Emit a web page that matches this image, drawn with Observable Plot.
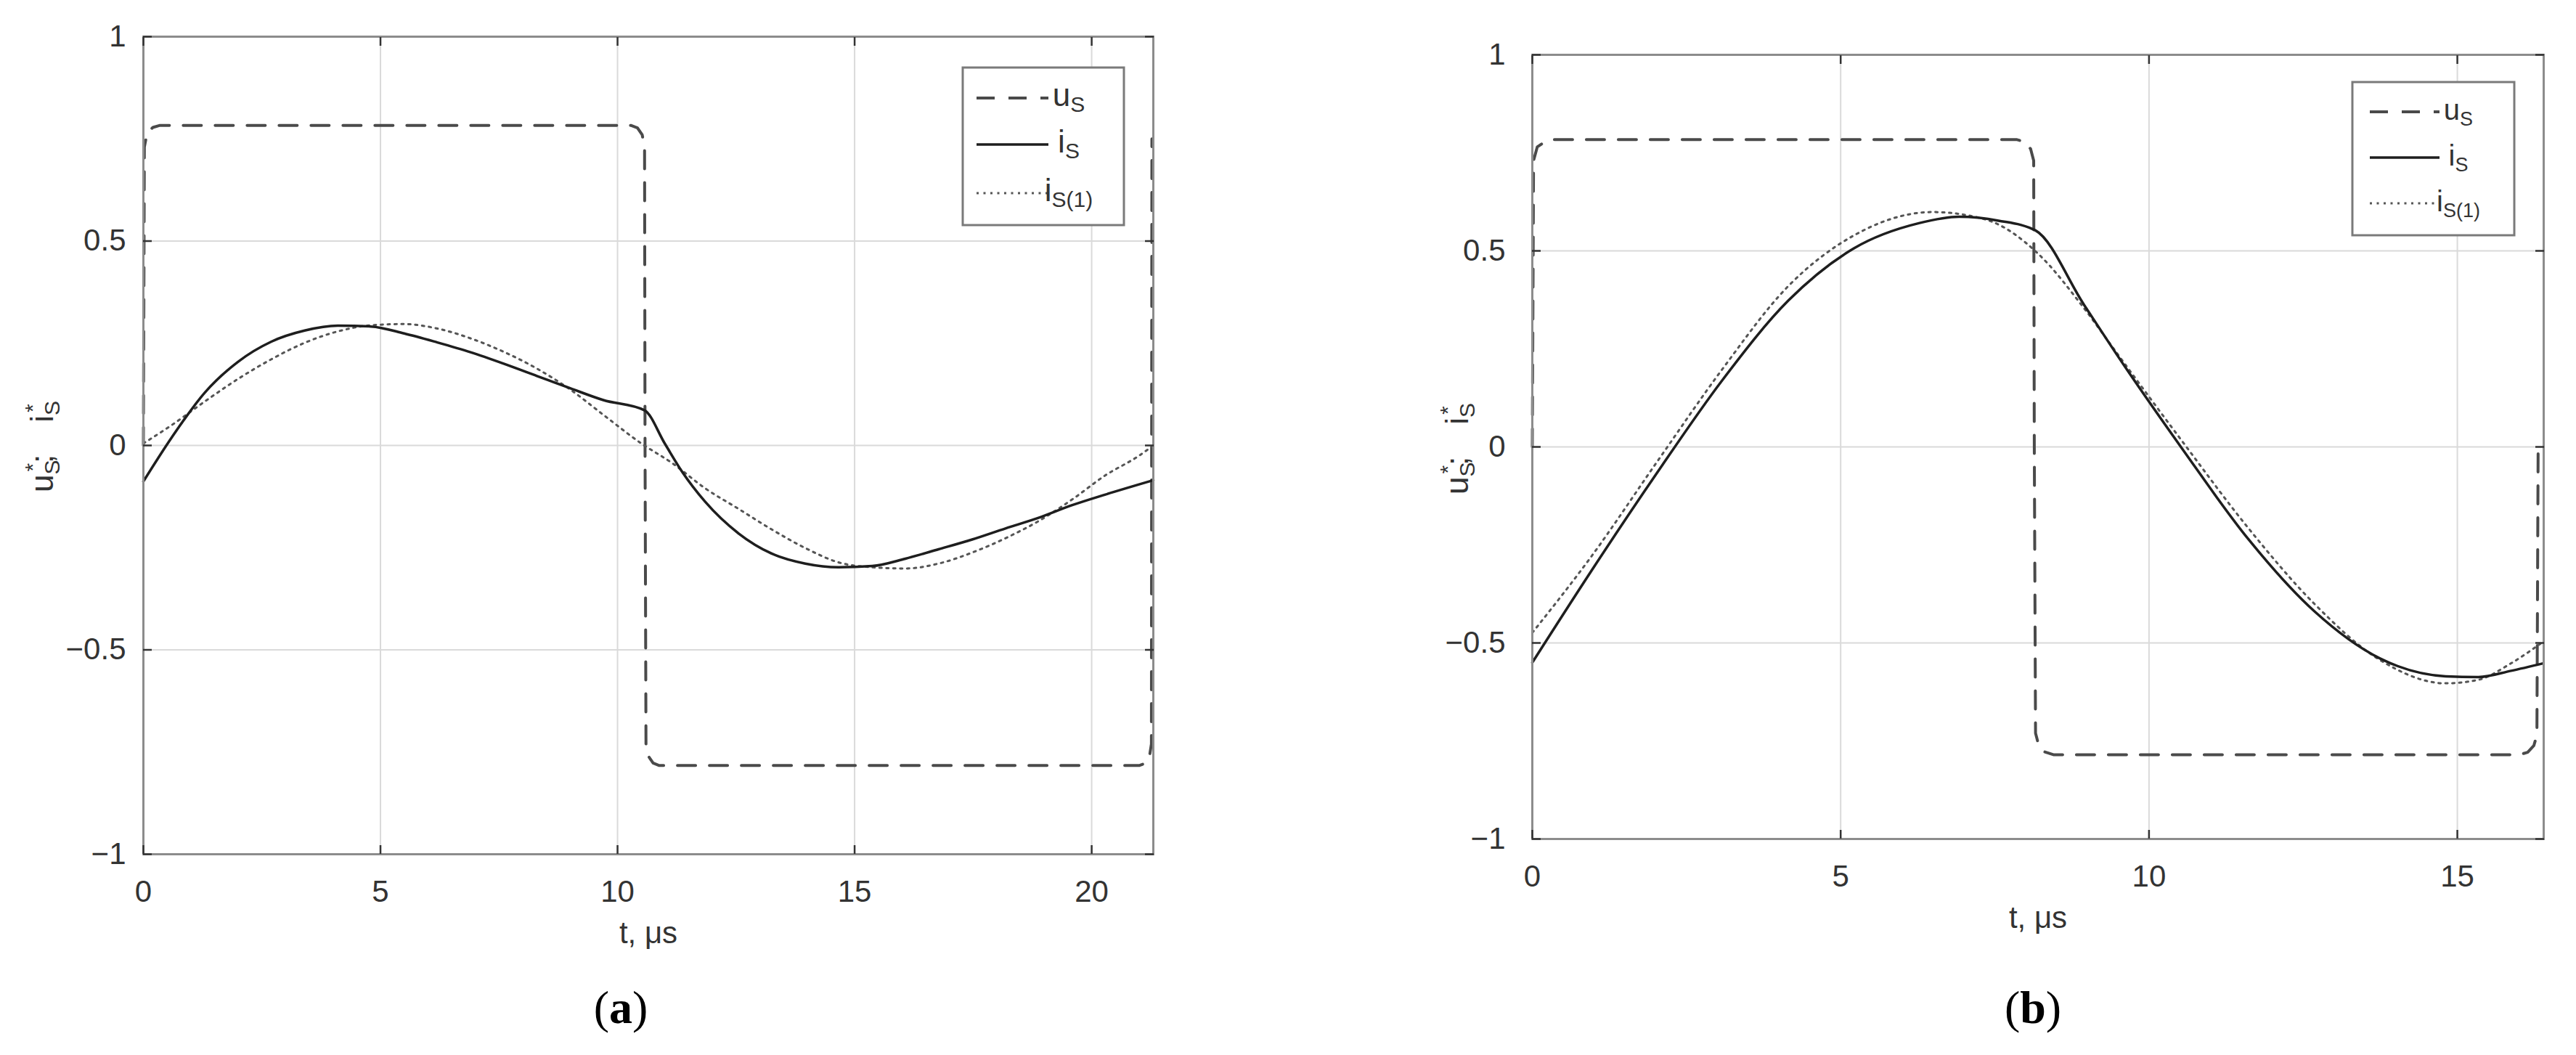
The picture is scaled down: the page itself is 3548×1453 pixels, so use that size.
<!DOCTYPE html>
<html>
<head>
<meta charset="utf-8">
<script src="https://cdn.jsdelivr.net/npm/d3@7"></script>
<script src="https://cdn.jsdelivr.net/npm/@observablehq/plot@0.6"></script>
<style>
  html, body { margin: 0; padding: 0; background: #fff; }
  #page { position: relative; width: 3548px; height: 1453px; overflow: hidden; background: #fff; }
  #page svg { position: absolute; top: 0; }
  .cap { position: absolute; font-family: "Liberation Serif", serif; font-size: 64px; color: #000;
         transform: translate(-50%, -50%); white-space: nowrap; }
</style>
</head>
<body>
<div id="page"></div>
<script>
// ---------- tick values ----------
const xTicksA = [0, 5, 10, 15, 20];
const xTicksB = [0, 5, 10, 15];
const yTicks = [-1, -0.5, 0, 0.5, 1];

// ---------- panel (a) ----------
const tA_is = [0, 0.6, 1.3, 2.0, 2.7, 3.4, 4.1, 4.8, 5.5, 6.2, 6.9, 7.6, 8.3, 9.0, 9.7, 10.57,
               11.0, 11.36, 11.85, 12.55, 13.26, 13.96, 14.66, 15.37, 16.07, 16.77, 17.48, 18.18, 18.88, 19.59, 20.29, 21.3];
const vA_is = [-0.088, 0.02, 0.13, 0.205, 0.254, 0.281, 0.293, 0.291, 0.274, 0.252, 0.228, 0.200, 0.170, 0.140, 0.111, 0.086,
               0.004, -0.064, -0.138, -0.215, -0.265, -0.289, -0.298, -0.295, -0.277, -0.254, -0.230, -0.203, -0.177, -0.146, -0.120, -0.085];

const tA_is1 = [0, 0.6, 1.3, 2.0, 2.7, 3.4, 4.1, 4.8, 5.5, 6.2, 6.9, 7.6, 8.3, 9.0, 9.7, 10.5,
                11.15, 11.85, 12.55, 13.26, 13.96, 14.66, 15.37, 16.07, 16.77, 17.48, 18.18, 18.88, 19.59, 20.29, 21.0, 21.3];
const vA_is1 = [0.005, 0.05, 0.108, 0.163, 0.211, 0.251, 0.279, 0.294, 0.297, 0.286, 0.262, 0.229, 0.188, 0.137, 0.075, 0.005,
                -0.043, -0.105, -0.155, -0.206, -0.251, -0.286, -0.298, -0.301, -0.289, -0.262, -0.227, -0.185, -0.132, -0.073, -0.025, 0.0];

const tA_us = [0, 0.02, 0.08, 0.2, 0.35, 10.28, 10.42, 10.52, 10.57, 10.58, 10.6, 10.65, 10.75, 10.88, 21.0, 21.14, 21.22, 21.26, 21.27];
const vA_us = [0, 0.73, 0.765, 0.778, 0.783, 0.783, 0.777, 0.76, 0.73, 0, -0.73, -0.76, -0.777, -0.783, -0.783, -0.777, -0.76, -0.73, 0.75];

// ---------- panel (b) ----------
const tB_is = [0, 0.95, 2.01, 3.08, 4.15, 5.21, 6.28, 6.92, 7.56, 8.16, 8.94, 9.48, 10.54, 11.61, 12.68, 13.74, 14.81, 15.34, 15.87, 16.39];
const vB_is = [-0.55, -0.318, -0.069, 0.170, 0.373, 0.506, 0.571, 0.587, 0.577, 0.552, 0.364, 0.235, -0.005, -0.235, -0.419, -0.539, -0.585, -0.587, -0.571, -0.552];

const tB_is1 = [0, 0.95, 2.01, 3.08, 4.15, 5.21, 6.49, 7.35, 8.2, 8.94, 9.48, 10.54, 11.61, 12.68, 13.74, 14.81, 15.34, 15.87, 16.39];
const vB_is1 = [-0.474, -0.281, -0.041, 0.198, 0.410, 0.539, 0.599, 0.580, 0.493, 0.355, 0.239, 0.014, -0.207, -0.400, -0.543, -0.603, -0.594, -0.552, -0.497];

const tB_us = [0, 0.02, 0.08, 0.2, 0.35, 7.85, 7.99, 8.08, 8.13, 8.14, 8.16, 8.21, 8.31, 8.45, 16.0, 16.14, 16.24, 16.29, 16.31];
const vB_us = [0, 0.73, 0.765, 0.778, 0.784, 0.784, 0.778, 0.76, 0.73, 0, -0.73, -0.76, -0.778, -0.785, -0.785, -0.779, -0.762, -0.735, 0];

// ---------- text ----------
const legendLabels = [["u", "S"], ["i", "S"], ["i", "S(1)"]];
const xTitle = "t, μs";
const captions = ["a", "b"];

// ---------- styles ----------
const FONT = "'Liberation Sans', Arial, sans-serif";
const TEXT_COLOR = "#333";
const styleUs = {stroke: "#4a4a4a", strokeWidth: 4, strokeDasharray: "25,19"};
const styleIs = {stroke: "#1e1e1e", strokeWidth: 3.5};
const styleIs1 = {stroke: "#555", strokeWidth: 3, strokeDasharray: "3,6.5"};
const lineStyles = [styleUs, styleIs, styleIs1];
const noText = () => "";
const fmtY = d => (d < 0 ? "\u2212" : "") + String(Math.abs(d));

const zip = (t, v) => t.map((x, i) => ({t: x, v: v[i]}));

function panel(cfg) {
  const svg = Plot.plot({
    width: cfg.width, height: 1453,
    marginLeft: cfg.ml, marginRight: cfg.mr, marginTop: cfg.mt, marginBottom: cfg.mb,
    x: {domain: cfg.xDomain},
    y: {domain: [-1, 1]},
    style: {fontFamily: FONT, fontSize: "42px", color: TEXT_COLOR, background: "transparent", overflow: "visible"},
    marks: [
      Plot.gridX({ticks: cfg.xTicks, stroke: "#dadada", strokeOpacity: 1, strokeWidth: 2}),
      Plot.gridY({ticks: yTicks, stroke: "#dadada", strokeOpacity: 1, strokeWidth: 2}),
      Plot.line(zip(cfg.tUs, cfg.vUs), {x: "t", y: "v", ...styleUs}),
      Plot.line(zip(cfg.tIs1, cfg.vIs1), {x: "t", y: "v", curve: "monotone-x", ...styleIs1}),
      Plot.line(zip(cfg.tIs, cfg.vIs), {x: "t", y: "v", curve: "monotone-x", ...styleIs}),
      Plot.frame({stroke: "#8c8c8c", strokeWidth: 3}),
      Plot.axisX({anchor: "bottom", ticks: cfg.xTicks, tickSize: -12, tickFormat: noText, label: null, strokeWidth: 2.5}),
      Plot.axisX({anchor: "top", ticks: cfg.xTicks, tickSize: -12, tickFormat: noText, label: null, strokeWidth: 2.5}),
      Plot.axisY({anchor: "left", ticks: yTicks, tickSize: -12, tickFormat: noText, label: null, strokeWidth: 2.5}),
      Plot.axisY({anchor: "right", ticks: yTicks, tickSize: -12, tickFormat: noText, label: null, strokeWidth: 2.5}),
      Plot.axisX({anchor: "bottom", ticks: cfg.xTicks, tickSize: 0, tickPadding: 36, label: null, fontSize: 42}),
      Plot.axisY({anchor: "left", ticks: yTicks, tickSize: 0, tickPadding: cfg.yPad, tickFormat: fmtY, label: null, fontSize: 42}),
      Plot.text([xTitle], {frameAnchor: "bottom", dy: 122, fontSize: 42, fill: TEXT_COLOR})
    ]
  });
  svg.style.left = cfg.left + "px";
  const s = d3.select(svg);

  // y-axis title  u*_S; i*_S
  const yt = s.append("text")
    .attr("transform", `translate(${cfg.yTitleX},${cfg.yTitleY}) rotate(-90)`)
    .attr("text-anchor", "middle").attr("font-family", FONT).attr("font-size", 44).attr("fill", TEXT_COLOR);
  yt.append("tspan").text("u");
  yt.append("tspan").attr("font-size", 30).attr("dy", 9).text("S");
  yt.append("tspan").attr("font-size", 30).attr("dx", -16).attr("dy", -27).text("*");
  yt.append("tspan").attr("dy", 18).text(";\u2002\u2002i");
  yt.append("tspan").attr("font-size", 30).attr("dy", 9).text("S");
  yt.append("tspan").attr("font-size", 30).attr("dx", -16).attr("dy", -27).text("*");

  // legend
  const L = cfg.legend;
  const g = s.append("g");
  g.append("rect").attr("x", L.box[0]).attr("y", L.box[1])
    .attr("width", L.box[2] - L.box[0]).attr("height", L.box[3] - L.box[1])
    .attr("fill", "#fff").attr("stroke", "#7a7a7a").attr("stroke-width", 3);
  lineStyles.forEach((st, i) => {
    g.append("line").attr("x1", L.lx[0]).attr("x2", L.lx[1]).attr("y1", L.rows[i]).attr("y2", L.rows[i])
      .attr("stroke", st.stroke).attr("stroke-width", st.strokeWidth)
      .attr("stroke-dasharray", st.strokeDasharray || null);
    const t = g.append("text").attr("x", L.tx).attr("y", L.rows[i] + 11)
      .attr("font-family", FONT).attr("font-size", L.fs).attr("fill", TEXT_COLOR);
    t.append("tspan").text(legendLabels[i][0]);
    t.append("tspan").attr("font-size", L.fsSub).attr("dy", 8).text(legendLabels[i][1]);
  });
  return svg;
}

const page = document.getElementById("page");

page.appendChild(panel({
  left: 0, width: 1700, ml: 197, mr: 112, mt: 50, mb: 277,
  xDomain: [0, 21.3], xTicks: xTicksA, yPad: 24,
  tIs: tA_is, vIs: vA_is, tIs1: tA_is1, vIs1: vA_is1, tUs: tA_us, vUs: vA_us,
  yTitleX: 73, yTitleY: 615,
  legend: {box: [1326, 93, 1548, 310], rows: [135, 199, 266], lx: [1345, 1444], tx: 1472, fs: 44, fsSub: 30}
}));

page.appendChild(panel({
  left: 1950, width: 1598, ml: 160, mr: 45, mt: 75, mb: 298,
  xDomain: [0, 16.4], xTicks: xTicksB, yPad: 37,
  tIs: tB_is, vIs: vB_is, tIs1: tB_is1, vIs1: vB_is1, tUs: tB_us, vUs: vB_us,
  yTitleX: 72, yTitleY: 618,
  legend: {box: [1290, 113, 1513, 324], rows: [154, 217, 280], lx: [1314, 1410], tx: 1436, fs: 40, fsSub: 27}
}));

// captions (a), (b)
[[855, 1388], [2800, 1388]].forEach(([x, y], i) => {
  const d = document.createElement("div");
  d.className = "cap";
  d.style.left = x + "px";
  d.style.top = y + "px";
  d.append("(");
  const b = document.createElement("b");
  b.textContent = captions[i];
  d.append(b);
  d.append(")");
  page.appendChild(d);
});
</script>
</body>
</html>
